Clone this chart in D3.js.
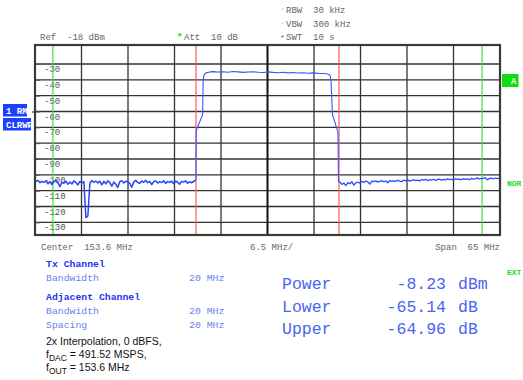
<!DOCTYPE html>
<html><head><meta charset="utf-8">
<script src="https://cdn.jsdelivr.net/npm/d3@7"></script>
<style>
html,body{margin:0;padding:0;background:#fff;}
svg{display:block;}
</style></head>
<body>
<script>
// ---------- data ----------
const refLevel = -18;          // dBm (top of grid)
const bottomLevel = -138;      // dBm
const centerFreq = 153.6;      // MHz
const spanMHz = 65;
const divMHz = 6.5;
const yTickValues = [-30,-40,-50,-60,-70,-80,-90,-100,-110,-120,-130];
const channelEdges = [143.6, 163.6];        // red lines (Tx channel)
const adjacentEdges = [123.6, 183.6];       // green lines
// left noise floor: 121.24 MHz .. 143.6 MHz
const leftNoiseStart = 121.24, leftNoiseEnd = 143.55;
const leftNoise = [-104.2,-103.5,-105.0,-104.1,-104.8,-103.9,-105.6,-104.3,-106.2,-104.0,
 -103.6,-105.1,-107.5,-104.6,-105.3,-104.0,-106.0,-104.5,-105.8,-103.8,
 -104.9,-106.4,-104.2,-105.0,-104.4,-127.0,-126.0,-105.5,-103.6,-104.8,
 -103.9,-105.2,-104.0,-106.3,-104.1,-105.7,-103.8,-104.9,-107.2,-104.5,
 -105.9,-108.0,-104.3,-103.7,-105.1,-104.2,-104.0,-105.4,-107.8,-104.6,
 -103.5,-104.8,-105.3,-103.9,-104.7,-103.4,-105.0,-104.1,-106.1,-104.4,
 -103.8,-105.2,-104.3,-104.9,-103.7,-105.5,-104.2,-104.8,-103.9,-105.6,
 -104.0,-104.7,-105.9,-104.1,-104.6,-103.8,-105.3,-104.4,-105.0,-104.2,-103.5];
// Tx channel: rising edge, flat top, falling edge (MHz, dBm)
const riseFreq = [143.60,143.64,144.53,144.61,144.72,145.00,145.56];
const riseLevel = [-103,-72,-62,-40,-37,-35.6,-35.0];
const topStart = 146.0, topEnd = 161.4;
const topLevel = [-34.8,-35.1,-34.9,-35.2,-34.7,-35.0,-35.3,-35.1,-34.9,-35.2,-35.4,-35.0,
 -35.3,-35.5,-35.2,-35.6,-35.4,-35.7,-35.5,-35.8,-35.6,-35.9,-36.0];
const fallFreq = [161.9,162.33,162.47,162.68,163.45,163.52];
const fallLevel = [-36.2,-37,-40,-62,-73,-104];
// right noise floor: 163.73 .. 186.1 MHz
const rightNoiseStart = 163.73, rightNoiseEnd = 186.0;
const rightNoise = [-104.5,-106.0,-105.2,-106.8,-104.9,-105.6,-104.4,-106.5,-105.0,-104.6,
 -105.3,-104.2,-104.8,-103.9,-104.5,-105.8,-104.0,-104.3,-103.8,-104.6,
 -104.1,-103.7,-104.4,-103.9,-105.0,-103.6,-104.2,-103.8,-104.0,-103.5,
 -103.9,-104.3,-103.4,-103.8,-103.2,-104.0,-103.5,-103.1,-103.7,-103.3,
 -103.9,-103.0,-103.4,-102.9,-103.6,-103.1,-103.3,-102.8,-103.5,-103.0,
 -102.7,-103.4,-102.9,-103.2,-102.6,-103.0,-102.8,-103.3,-102.5,-102.9,
 -102.7,-103.1,-102.4,-102.8,-102.6,-103.0,-102.3,-102.7,-102.5,-101.9,
 -102.6,-102.4,-102.2,-101.8,-103.2,-102.3,-102.1,-102.5,-102.0,-102.4,-102.2];
const headerLeft = ["Ref  -18 dBm"];
const headerRight = ["RBW  30 kHz","VBW  300 kHz","SWT  10 s"];
const resultNames = ["Power","Lower","Upper"];
const resultValues = ["-8.23","-65.14","-64.96"];
const resultUnits = ["dBm","dB","dB"];

// ---------- layout ----------
const W = 523, H = 380;
const L = 35, R = 500, T = 45, B = 235;
const mono = "'Liberation Mono', 'DejaVu Sans Mono', monospace";
const sans = "'Liberation Sans', Arial, sans-serif";

const svg = d3.select("body").append("svg").attr("width", W).attr("height", H);
const x = d3.scaleLinear().domain([centerFreq - spanMHz/2, centerFreq + spanMHz/2]).range([L, R]);
const y = d3.scaleLinear().domain([refLevel, bottomLevel]).range([T, B]);

// grid: horizontal
const g = svg.append("g");
g.selectAll("line.h").data(yTickValues).enter().append("line")
  .attr("x1", L).attr("x2", R).attr("y1", d => y(d)).attr("y2", d => y(d))
  .attr("stroke", "#333").attr("stroke-width", 1.3);
// vertical
const vTicks = d3.range(1, 10).map(i => x.domain()[0] + i*divMHz);
g.selectAll("line.v").data(vTicks).enter().append("line")
  .attr("x1", d => x(d)).attr("x2", d => x(d)).attr("y1", T).attr("y2", B)
  .attr("stroke", (d,i) => i===4 ? "#111" : "#333").attr("stroke-width", (d,i) => i===4 ? 2 : 1.3);

// y-axis labels via d3 axis (inside plot)
const yAxis = d3.axisRight(y).tickValues(yTickValues).tickSize(4).tickPadding(6)
  .tickFormat(d => "-" + Math.abs(d));
const ya = svg.append("g").attr("transform", `translate(${L+1},0)`).call(yAxis);
ya.select(".domain").remove();
ya.selectAll(".tick line").attr("stroke", "#555").attr("stroke-width", 1);
ya.selectAll(".tick text").attr("font-family", mono).attr("font-size", 9).attr("fill", "#555")
  .attr("dy", "0.85em").attr("x", 8);

// channel lines
svg.selectAll("line.red").data(channelEdges).enter().append("line")
  .attr("x1", d => x(d)).attr("x2", d => x(d)).attr("y1", T).attr("y2", B)
  .attr("stroke", "#ff5a5a").attr("stroke-width", 1.2);
svg.selectAll("line.green").data(adjacentEdges).enter().append("line")
  .attr("x1", d => x(d)).attr("x2", d => x(d)).attr("y1", T).attr("y2", B)
  .attr("stroke", "#44dd44").attr("stroke-width", 1.2);

// trace
function spaced(vals, a, b){ const n = vals.length; return vals.map((v,i)=>[a + (b-a)*i/(n-1), v]); }
const leftPts = spaced(leftNoise, leftNoiseStart, leftNoiseEnd);
const chanPts = [].concat(
  [leftPts[leftPts.length-1]],
  riseFreq.map((f,i)=>[f, riseLevel[i]]),
  spaced(topLevel, topStart, topEnd),
  fallFreq.map((f,i)=>[f, fallLevel[i]])
);
const rightPts = [[fallFreq[fallFreq.length-1], fallLevel[fallLevel.length-1]]].concat(spaced(rightNoise, rightNoiseStart, rightNoiseEnd));
const line = d3.line().x(d => x(d[0])).y(d => y(d[1]));
svg.append("path").datum(chanPts).attr("d", line)
  .attr("fill", "none").attr("stroke", "#3a55ff").attr("stroke-width", 1.1).attr("stroke-linejoin","round");
svg.append("path").datum(leftPts).attr("d", line)
  .attr("fill", "none").attr("stroke", "#2444ff").attr("stroke-width", 1.5).attr("stroke-linejoin","round");
svg.append("path").datum(rightPts).attr("d", line)
  .attr("fill", "none").attr("stroke", "#2a4aff").attr("stroke-width", 1.3).attr("stroke-linejoin","round");

// frame
svg.append("rect").attr("x", L).attr("y", T).attr("width", R-L).attr("height", B-T)
  .attr("fill", "none").attr("stroke", "#3a3a3a").attr("stroke-width", 2.2);

// header texts
svg.append("text").attr("x", 40).attr("y", 40).text(headerLeft[0])
  .attr("font-family", mono).attr("font-size", 9).attr("fill", "#666").attr("xml:space","preserve");
svg.append("text").attr("x", 177).attr("y", 40).text("*").attr("font-family", mono)
  .attr("font-size", 9).attr("fill", "#22cc22").attr("font-weight","bold");
svg.append("text").attr("x", 184).attr("y", 40).text("Att  10 dB").attr("xml:space","preserve")
  .attr("font-family", mono).attr("font-size", 9).attr("fill", "#666");
svg.selectAll("text.hr").data(headerRight).enter().append("text")
  .attr("x", 286).attr("y", (d,i) => 13 + i*13.5).text(d => d).attr("xml:space","preserve")
  .attr("font-family", mono).attr("font-size", 9).attr("fill", "#666");
svg.selectAll("text.hm").data(["'","'","*"]).enter().append("text")
  .attr("x", 280).attr("y", (d,i) => 13 + i*13.5).text(d => d)
  .attr("font-family", mono).attr("font-size", 8).attr("fill", (d,i)=> i===2 ? "#22cc22" : "#aaddaa")
  .attr("font-weight","bold");

// left badges
const badges = [{t:"1 RM *", y:104, w:24}, {t:"CLRWR", y:118, w:28}];
const bd = svg.append("defs");
badges.forEach((b,i)=>{
  bd.append("clipPath").attr("id","bc"+i).append("rect").attr("x",3).attr("y",b.y).attr("width",b.w).attr("height",12.5);
  svg.append("rect").attr("x",3).attr("y",b.y).attr("width",b.w).attr("height",12.5).attr("fill","#1f3fff");
  svg.append("text").attr("x",6).attr("y",b.y+9.5).text(b.t).attr("clip-path",`url(#bc${i})`).attr("xml:space","preserve")
    .attr("font-family",mono).attr("font-size",9).attr("font-weight","bold").attr("fill","#fff");
});
svg.append("rect").attr("x",32).attr("y",111).attr("width",2).attr("height",2).attr("fill","#22cc22");

// right indicators
svg.append("rect").attr("x",502).attr("y",74).attr("width",16.5).attr("height",13).attr("fill","#11dd11");
svg.append("text").attr("x",511).attr("y",84).text("A").attr("font-family",mono).attr("font-size",8.5)
  .attr("font-weight","bold").attr("fill","#fff");
svg.append("text").attr("x",507).attr("y",186).text("NOR").attr("font-family",mono).attr("font-size",8)
  .attr("font-weight","bold").attr("fill","#22dd22");
svg.append("text").attr("x",507).attr("y",275).text("EXT").attr("font-family",mono).attr("font-size",8)
  .attr("font-weight","bold").attr("fill","#22dd22");

// bottom axis labels
const bl = svg.append("g").attr("font-family", mono).attr("font-size", 9).attr("fill", "#666");
bl.append("text").attr("x", 41).attr("y", 250).attr("xml:space","preserve").text(`Center  ${centerFreq} MHz`);
bl.append("text").attr("x", 250).attr("y", 250).text(`${divMHz} MHz/`);
bl.append("text").attr("x", 500).attr("y", 250).attr("text-anchor","end").attr("xml:space","preserve").text(`Span  ${spanMHz} MHz`);

// channel settings text
const cs = svg.append("g").attr("font-family", mono).attr("font-size", 9.8);
cs.append("text").attr("x",46).attr("y",267).text("Tx Channel").attr("font-weight","bold").attr("fill","#1f35f0");
cs.append("text").attr("x",46).attr("y",281).text("Bandwidth").attr("fill","#6b7ef0");
cs.append("text").attr("x",189).attr("y",281).text("20 MHz").attr("fill","#6b7ef0");
cs.append("text").attr("x",46).attr("y",300).text("Adjacent Channel").attr("font-weight","bold").attr("fill","#1f35f0");
cs.append("text").attr("x",46).attr("y",314).text("Bandwidth").attr("fill","#6b7ef0");
cs.append("text").attr("x",189).attr("y",314).text("20 MHz").attr("fill","#6b7ef0");
cs.append("text").attr("x",46).attr("y",328).text("Spacing").attr("fill","#6b7ef0");
cs.append("text").attr("x",189).attr("y",328).text("20 MHz").attr("fill","#6b7ef0");

// annotation (Arial)
const an = svg.append("g").attr("font-family", sans).attr("font-size", 10.5).attr("fill", "#111");
an.append("text").attr("x",46).attr("y",345).text("2x Interpolation, 0 dBFS,");
const t2 = an.append("text").attr("x",46).attr("y",358);
t2.append("tspan").text("f");
t2.append("tspan").attr("dy",3).attr("font-size",8.5).text("DAC");
t2.append("tspan").attr("dy",-3).text(" = 491.52 MSPS,");
const t3 = an.append("text").attr("x",46).attr("y",371);
t3.append("tspan").text("f");
t3.append("tspan").attr("dy",3).attr("font-size",8.5).text("OUT");
t3.append("tspan").attr("dy",-3).text(" = 153.6 MHz");

// results
const rs = svg.append("g").attr("font-family", mono).attr("font-size", 16.5).attr("fill", "#4a64f0");
resultNames.forEach((n,i)=>{
  const yy = 289 + i*22.7;
  rs.append("text").attr("x",282).attr("y",yy).text(n);
  rs.append("text").attr("x",446).attr("y",yy).attr("text-anchor","end").text(resultValues[i]);
  rs.append("text").attr("x",458).attr("y",yy).text(resultUnits[i]);
});
</script>
</body></html>
